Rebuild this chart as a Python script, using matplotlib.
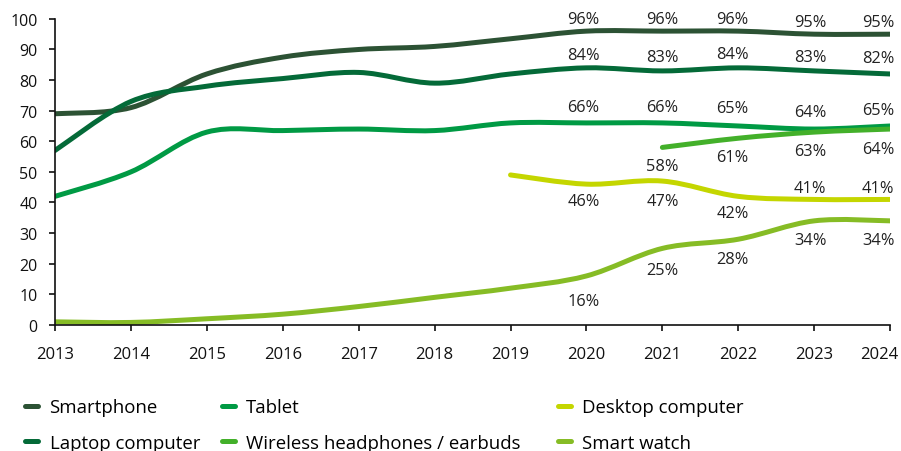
import numpy as np
import matplotlib
matplotlib.use('Agg')
import matplotlib.pyplot as plt
import matplotlib.transforms as mtransforms
from matplotlib.path import Path
from matplotlib.patches import PathPatch
from matplotlib.lines import Line2D

plt.rcParams['font.family'] = ['Open Sans', 'DejaVu Sans']

years = list(range(2013, 2025))

smartphone = [69, 71, 82, 87.5, 90, 91, 93.5, 96, 96, 96, 95, 95]
laptop = [57, 73, 78, 80.5, 82.5, 79, 82, 84, 83, 84, 83, 82]
tablet = [42, 50, 63, 63.5, 64, 63.5, 66, 66, 66, 65, 64, 65]
desktop_years = [2019, 2020, 2021, 2022, 2023, 2024]
desktop = [49, 46, 47, 42, 41, 41]
wireless_years = [2021, 2022, 2023, 2024]
wireless = [58, 61, 63, 64]
smartwatch = [1, 0.8, 2, 3.5, 6, 9, 12, 16, 25, 28, 34, 34]

series = [
    ('Smartphone', years, smartphone, '#2C5234'),
    ('Laptop computer', years, laptop, '#046A38'),
    ('Tablet', years, tablet, '#009A44'),
    ('Desktop computer', desktop_years, desktop, '#C4D600'),
    ('Wireless headphones / earbuds', wireless_years, wireless, '#43B02A'),
    ('Smart watch', years, smartwatch, '#86BC25'),
]

# which side of the line each value label sits on (+ above, - below), in px
label_dy = {
    'Smartphone': {y: 12 for y in range(2020, 2025)},
    'Laptop computer': {2020: 13, 2021: 14, 2022: 14, 2023: 14, 2024: 16},
    'Tablet': {2020: 16, 2021: 16, 2022: 17.5, 2023: 17, 2024: 16},
    'Desktop computer': {2020: -17, 2021: -20, 2022: -17, 2023: 11.5, 2024: 11.5},
    'Wireless headphones / earbuds': {2021: -19, 2022: -19, 2023: -19, 2024: -20},
    'Smart watch': {2020: -25, 2021: -21.5, 2022: -20, 2023: -19, 2024: -19},
}
x_shift = {2020: -3, 2021: 0, 2022: -6, 2023: -4, 2024: -12}


def smooth_path(xs, ys):
    # excel-like smoothed line: cubic bezier through every point
    p = np.column_stack([xs, ys]).astype(float)
    n = len(p)
    verts = [p[0]]
    codes = [Path.MOVETO]
    for i in range(n - 1):
        p0 = p[i - 1] if i > 0 else p[i]
        p3 = p[i + 2] if i + 2 < n else p[i + 1]
        c1 = p[i] + (p[i + 1] - p0) / 6.0
        c2 = p[i + 1] - (p3 - p[i]) / 6.0
        verts += [c1, c2, p[i + 1]]
        codes += [Path.CURVE4] * 3
    return Path(verts, codes)


fig = plt.figure(figsize=(9.01, 4.52), dpi=100)
ax = fig.add_axes([0.061, 0.279, 0.927, 0.677])

for name, xs, ys, col in series:
    patch = PathPatch(smooth_path(xs, ys), fill=False, edgecolor=col, lw=3.6,
                      capstyle='round', joinstyle='round')
    ax.add_patch(patch)
    for x, v in zip(xs, ys):
        dy = label_dy[name].get(x)
        if dy is None:
            continue
        ax.annotate(f'{v:.0f}%', (x, v), xytext=(x_shift[x] * 0.72, dy * 0.72),
                    textcoords='offset points', ha='center', va='center',
                    fontsize=11.8, color='#222222')

ax.set_xlim(2013, 2024)
ax.set_ylim(0, 100)
ax.set_xticks(years)
ax.set_yticks(range(0, 101, 10))
for s in ['top', 'right']:
    ax.spines[s].set_visible(False)
for s in ['left', 'bottom']:
    ax.spines[s].set_color('#111111')
    ax.spines[s].set_linewidth(1.2)
ax.tick_params(axis='both', direction='out', length=4.5, width=1.2,
               colors='#111111')
ax.tick_params(axis='x', labelsize=12, pad=11)
ax.tick_params(axis='y', labelsize=11.5, pad=8)

# last year label pulled in so it stays on the canvas
last = ax.get_xticklabels()[-1]
last.set_transform(last.get_transform() +
                   mtransforms.ScaledTranslation(-11 / 100, 0, fig.dpi_scale_trans))

# legend, three columns placed separately
cols = [(0.0277, [0, 1]), (0.246, [2, 4]), (0.619, [3, 5])]
for x0, idx in cols:
    handles = [Line2D([], [], color=series[i][3], lw=3.6, solid_capstyle='round')
               for i in idx]
    labels = [series[i][0] for i in idx]
    fig.legend(handles, labels, loc='upper left', bbox_to_anchor=(x0, 0.117),
               frameon=False, fontsize=13.4, handlelength=0.72, handletextpad=0.6,
               labelspacing=0.96, borderaxespad=0, borderpad=0)

fig.savefig('out.png', dpi=100)
